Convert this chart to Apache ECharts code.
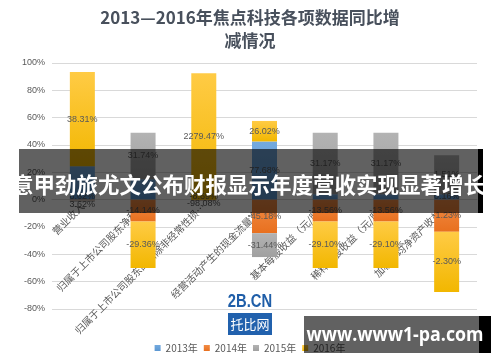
<!DOCTYPE html>
<html><head><meta charset="utf-8">
<script src="https://cdn.jsdelivr.net/npm/echarts@6/dist/echarts.min.js"></script>
<style>html,body{margin:0;padding:0;background:#fff}#c{width:500px;height:362px}</style>
</head><body><div id="c"></div>
<script>
const categories = ['营业收入', '归属于上市公司股东净利润', '归属于上市公司股东的扣除非经常性损…', '经营活动产生的现金流量净额', '基本每股收益（元/股）', '稀释每股收益（元/股）', '加权平均净资产收益率'];
const seriesNames = ['2013年', '2014年', '2015年', '2016年'];
// visible segment heights (%)
const v2013 = [24.5, 15, 0, 42.6, 4, 4, 4];
const v2014 = [-0.5, -16, -0.5, -24.5, -16, -16, -23.5];
const v2015 = [-1, 34, -0.5, -17.5, 45, 45, 28.5];
const v2016 = [69, -34, 92.5, 15, -34, -34, -44];
// data label texts as printed on the chart
const lab2013 = ['', '', '', '77.68%', '', '', '0.16%'];
const lab2014 = ['8.62%', '-14.14%', '-8.69%', '-45.18%', '-13.56%', '-13.56%', '-1.23%'];
const lab2015 = ['3.62%', '31.74%', '-98.08%', '-31.44%', '31.17%', '31.17%', '1.51%'];
const lab2016 = ['38.31%', '-29.36%', '2279.47%', '26.02%', '-29.10%', '-29.10%', '-2.30%'];
const yMin = -80, yMax = 100, yStep = 20;

const values = [v2013, v2014, v2015, v2016];
const labels = [lab2013, lab2014, lab2015, lab2016];
const grads = [
  ['#74AADF', '#5B97D2'],
  ['#F28C45', '#E8701F'],
  ['#B3B3B3', '#A0A0A0'],
  ['#FFCB45', '#F2B700']
];
const labelNudge = [0, -3, 3, 0];

const chart = echarts.init(document.getElementById('c'), null, {renderer: 'canvas'});
const series = values.map((vals, si) => ({
  name: seriesNames[si],
  type: 'bar',
  stack: 'all',
  barWidth: 25,
  itemStyle: {
    color: new echarts.graphic.LinearGradient(0, 0, 0, 1, [
      {offset: 0, color: grads[si][0]}, {offset: 1, color: grads[si][1]}
    ])
  },
  data: vals.map((v, i) => ({
    value: v,
    label: Math.abs(v) < 2 && v !== 0 ? {offset: [0, labelNudge[si]]} : undefined
  })),
  label: {
    show: true,
    position: 'inside',
    fontSize: 9,
    color: '#595959',
    fontFamily: 'Liberation Sans',
    formatter: p => labels[si][p.dataIndex]
  }
}));

const z = 100;
chart.setOption({
  animation: false,
  backgroundColor: '#ffffff',
  color: grads.map(g => g[1]),
  title: {
    text: '2013—2016年焦点科技各项数据同比增\n减情况',
    left: 'center',
    top: 1,
    textStyle: {fontSize: 17, fontWeight: 'bold', color: '#48505c', lineHeight: 23, fontFamily: 'Noto Sans CJK SC'}
  },
  grid: {left: 52, right: 23, top: 63, bottom: 53, containLabel: false, outerBoundsMode: 'none'},
  legend: {
    data: seriesNames,
    left: 'center',
    top: 338,
    icon: 'rect',
    itemWidth: 6,
    itemHeight: 6,
    itemGap: 6,
    textStyle: {fontSize: 10, color: '#595959', fontFamily: 'Noto Sans CJK SC'}
  },
  xAxis: {
    type: 'category',
    data: categories,
    axisTick: {show: false},
    axisLine: {onZero: false, lineStyle: {color: '#d9d9d9'}},
    axisLabel: {rotate: 45, interval: 0, fontSize: 10, color: '#595959', margin: 5, fontFamily: 'Noto Sans CJK SC'}
  },
  yAxis: {
    type: 'value',
    min: yMin, max: yMax, interval: yStep,
    axisLine: {show: false},
    axisTick: {show: false},
    splitLine: {lineStyle: {color: '#d9d9d9'}},
    axisLabel: {formatter: '{value}%', fontSize: 9, color: '#595959', margin: 7, fontFamily: 'Liberation Sans'}
  },
  series: series,
  graphic: [
    {type: 'rect', z: z, shape: {x: 19, y: 149, width: 459, height: 64}, style: {fill: 'rgba(0,0,0,0.62)'}},
    {type: 'rect', z: z, shape: {x: 478, y: 149, width: 5, height: 64}, style: {fill: '#000'}},
    {type: 'text', z: z + 1, x: 248.5, y: 185, style: {text: '意甲劲旅尤文公布财报显示年度营收实现显著增长', fill: '#fff', font: 'bold 21.5px "Noto Sans CJK SC"', align: 'center', verticalAlign: 'middle'}},
    {type: 'text', z: z, x: 250, y: 302, scaleX: 0.82, style: {text: '2B.CN', fill: '#1f5ea8', font: 'bold 18px "Liberation Sans"', align: 'center', verticalAlign: 'middle'}},
    {type: 'rect', z: z, shape: {x: 228, y: 313, width: 44, height: 22}, style: {fill: '#2161ad'}},
    {type: 'text', z: z + 1, x: 250, y: 324, style: {text: '托比网', fill: '#fff', font: '13px "Noto Sans CJK SC"', align: 'center', verticalAlign: 'middle'}},
    {type: 'rect', z: z, shape: {x: 304, y: 316, width: 175, height: 37}, style: {fill: 'rgba(0,0,0,0.62)'}},
    {type: 'rect', z: z, shape: {x: 479, y: 316, width: 12, height: 37}, style: {fill: '#000'}},
    {type: 'text', z: z + 1, x: 395, y: 335, scaleX: 0.89, style: {text: 'www.www1-pa.com', fill: '#fff', font: 'bold 20px "Open Sans"', align: 'center', verticalAlign: 'middle'}}
  ]
});
// move the category axis onto the value-axis zero line
const zeroY = chart.convertToPixel({yAxisIndex: 0}, 0);
const bottomY = chart.convertToPixel({yAxisIndex: 0}, yMin);
chart.setOption({xAxis: {offset: zeroY - bottomY}});
</script>
</body></html>
